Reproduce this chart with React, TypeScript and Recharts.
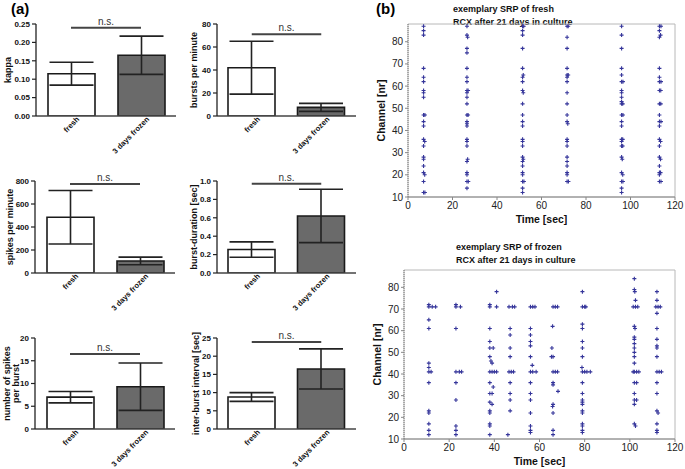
import {
  Bar,
  BarChart,
  Cell,
  ErrorBar,
  ReferenceArea,
  ReferenceLine,
  Scatter,
  ScatterChart,
  XAxis,
  YAxis,
} from "recharts";

const FONT = "'Liberation Sans', Arial, sans-serif";

// bar panels (a)
const groups = ["fresh", "3 days frozen"];

const kappaMean = [0.115, 0.165];
const kappaErr = [0.031, 0.052];
const kappaTicks = [0, 0.05, 0.1, 0.15, 0.2, 0.25];

const burstsMean = [42, 7.5];
const burstsErr = [23, 3.5];
const burstsTicks = [0, 20, 40, 60, 80];

const spikesMean = [485, 105];
const spikesErr = [233, 33];
const spikesTicks = [0, 200, 400, 600, 800];

const durationMean = [0.255, 0.62];
const durationErr = [0.083, 0.29];
const durationTicks = [0, 0.2, 0.4, 0.6, 0.8, 1.0];

const perBurstMean = [7.0, 9.3];
const perBurstErr = [1.25, 5.2];
const perBurstTicks = [0, 5, 10, 15, 20];

const ibiMean = [8.8, 16.5];
const ibiErr = [1.2, 5.5];
const ibiTicks = [0, 5, 10, 15, 20, 25];

// spike raster plots (b): [time sec, channel]
const timeTicks = [0, 20, 40, 60, 80, 100, 120];
const channelTicks = [10, 20, 30, 40, 50, 60, 70, 80];

const freshSpikes: [number, number][] = [
  [7, 87], [7, 85], [7, 83], [7, 68], [7, 64], [7, 62], [7, 58], [7, 57], [7, 55], [7, 47], [7.6, 47],
  [7, 44], [7, 42], [7, 36], [7.5, 35], [7, 33], [7, 28], [7, 27], [7, 24], [7, 21], [7.5, 20], [7, 17],
  [7, 12], [7.6, 12],
  [26.5, 87], [26.5, 83], [26.8, 82], [26.5, 77], [26.5, 75], [26.5, 68], [26.5, 64], [26.5, 62],
  [26.5, 58], [27, 58], [26.5, 57], [26.5, 55], [26.5, 52], [26.5, 47], [27, 47], [26.5, 44], [26.5, 43],
  [26.5, 42], [26.5, 36], [26.5, 35], [26.5, 33], [26.8, 27], [26.5, 26], [26.5, 21], [26.5, 20],
  [26.5, 17], [27.1, 17], [26.5, 14],
  [51.5, 87], [52, 87], [51.5, 85], [51.5, 83], [51.5, 77], [51.5, 68], [51.8, 65], [51.5, 64], [51.5, 62],
  [51.5, 58], [51.8, 57], [51.5, 52], [51.5, 47], [51.5, 44], [51.5, 42], [51.5, 36], [51.5, 35],
  [51.5, 33], [51.5, 28], [51.8, 27], [51.5, 26], [51.5, 24], [51.5, 21], [51.5, 20], [51.5, 17],
  [52.1, 17], [51.5, 14], [51.5, 12],
  [71.5, 87], [72, 87], [71.5, 82], [71.5, 77], [71.5, 68], [71.5, 65], [72, 65], [71.5, 64], [71.5, 62],
  [71.5, 57], [71.5, 52], [71.5, 47], [71.5, 44], [71.8, 43], [71.5, 36], [71.5, 35], [71.5, 33],
  [71.5, 28], [71.5, 26], [71.5, 24], [71.5, 21], [71.5, 20], [71.5, 17], [72.1, 17],
  [96, 87], [96, 83], [96, 77], [96, 68], [96, 65], [96, 62], [96.6, 62], [96, 58], [96, 57], [96, 55],
  [96, 53], [96, 52], [96.5, 52], [96, 47], [96.6, 47], [96, 44], [96, 42], [96, 36], [96.5, 36], [96, 35],
  [96, 33], [96.5, 33], [96, 28], [96.3, 27], [96, 21], [96.5, 20], [96, 17], [96.6, 17], [96, 14], [96, 12],
  [113, 87], [113.7, 87], [113, 85], [113.5, 83], [113, 82], [113, 68], [113, 64], [113, 62], [113.7, 62],
  [113, 58], [113.6, 58], [113, 52], [113.6, 52], [113, 47], [113, 44], [113.7, 44], [113, 42], [113, 36],
  [113.5, 35], [113, 33], [113, 28], [113.5, 27], [113, 24], [113, 21], [113.5, 21], [113, 20], [113, 17],
  [113.7, 17],
];

const frozenSpikes: [number, number][] = [
  [11, 72], [11, 71], [12.5, 71], [14, 71], [11, 65], [11, 61], [11, 45], [11, 43], [11, 41], [12, 41],
  [11, 36], [11, 23], [11, 22], [11, 17], [11, 14], [11, 12],
  [23, 72], [23, 71], [25, 71], [23, 61], [23, 41], [24.5, 41], [25.5, 41], [23, 36], [23, 28], [23, 16],
  [23, 14], [23, 12],
  [38, 72], [38, 71], [41, 71], [41, 78], [38, 61], [38, 55], [38, 52], [39.5, 52], [38, 48], [38.5, 46],
  [39, 45], [38, 41], [39, 41], [40, 41], [41, 41], [38, 36], [39.5, 34], [38, 31], [39, 31], [38, 27],
  [39, 26], [38, 23], [38, 22], [38, 17], [38, 16], [38, 12],
  [46.5, 71], [48, 71], [49, 71], [47, 61], [47, 58], [47, 52], [47, 48], [46.5, 41], [47.5, 41],
  [48.5, 41], [47, 36], [47, 31], [47, 28], [47, 23], [46, 12],
  [56, 71], [57, 71], [58, 71], [56, 61], [56, 58], [56, 55], [56, 53], [56, 48], [56.8, 44], [56, 41],
  [57, 41], [58.5, 41], [56, 36], [56, 31], [56, 28], [56, 22], [56, 16], [56, 14], [56, 13],
  [66, 71], [67, 71], [68, 71], [65.8, 62], [65.5, 52], [66, 48], [65.3, 48], [66, 41], [67, 41], [68, 41],
  [66, 36], [66, 35], [68.2, 32], [66, 26], [65.8, 25], [66, 22], [66, 14], [66, 12],
  [79, 78], [79, 71], [80, 71], [80.5, 71], [79, 63], [79, 61], [79, 55], [79, 52], [79, 48], [78.8, 43],
  [79, 41], [80, 41], [81, 41], [82.5, 41], [79, 36], [79, 31], [79, 28], [79, 27], [79, 26], [79, 23],
  [79, 22], [79, 17], [79, 16], [79, 14], [79, 13],
  [102, 84], [102, 79], [102.2, 78], [102.5, 74], [101.5, 71], [102.5, 71], [103.5, 71], [102, 62],
  [102.3, 61], [102, 57], [102, 56], [102, 54], [102, 52], [102, 50], [102, 48], [102, 45], [101.5, 41],
  [102, 41], [103, 41], [104, 41], [102, 36], [103, 36], [102, 31], [102, 28], [103, 28], [102, 26],
  [102, 17], [102.5, 16],
  [112, 78], [112, 74], [111.5, 71], [112.5, 71], [113.5, 71], [112, 68], [112, 61], [112, 56], [112, 53],
  [112, 52], [112, 48], [112, 41], [113, 41], [114, 41], [112, 36], [112, 31], [112, 23], [112.5, 22],
  [112, 17], [112, 14], [112, 13],
];

type PanelProps = {
  left: number;
  top: number;
  width: number;
  plotH: number;
  axisW: number;
  means: number[];
  errs: number[];
  ticks: number[];
  digits: number;
  nsAt: number;
  title: string[];
  titleX: number;
};

function BarPanel(p: PanelProps) {
  const data = groups.map((g, i) => ({ name: g, mean: p.means[i], err: p.errs[i] }));
  const max = p.ticks[p.ticks.length - 1];
  const midY = 10 + p.plotH / 2;
  const lineGap = 9;
  const n = p.title.length;
  return (
    <div style={{ position: "absolute", left: p.left, top: p.top }}>
      <BarChart
        width={p.width}
        height={p.plotH + 55}
        data={data}
        margin={{ top: 10, right: 10, bottom: 0, left: 0 }}
        barSize={47}
      >
        <XAxis
          dataKey="name"
          type="category"
          height={45}
          interval={0}
          tickSize={0}
          tickMargin={0}
          tickLine={false}
          angle={-45}
          axisLine={{ stroke: "#444", strokeWidth: 1.3 }}
          tick={{ fontSize: 7.6, fontWeight: 700, fill: "#111", fontFamily: FONT, textAnchor: "end", dx: 5 }}
        />
        <YAxis
          type="number"
          domain={[0, max]}
          ticks={p.ticks}
          interval={0}
          allowDataOverflow
          width={p.axisW}
          tickSize={4}
          tickFormatter={(v: number) => v.toFixed(p.digits)}
          axisLine={{ stroke: "#222", strokeWidth: 1.3 }}
          tickLine={{ stroke: "#222", strokeWidth: 1.2 }}
          tick={{ fontSize: 8, fontWeight: 700, fill: "#111", fontFamily: FONT }}
        />
        <Bar dataKey="mean" stroke="#1a1a1a" strokeWidth={1.6} isAnimationActive={false}>
          <Cell fill="#ffffff" />
          <Cell fill="#6a6a6a" />
          <ErrorBar dataKey="err" width={22} stroke="#222" strokeWidth={1.6} direction="y" />
        </Bar>
        <ReferenceLine
          segment={[
            { x: groups[0], y: p.nsAt },
            { x: groups[1], y: p.nsAt },
          ]}
          stroke="#444"
          strokeWidth={2}
          label={{ value: "n.s.", position: "top", fontSize: 10, fill: "#333", fontFamily: FONT, offset: 3 }}
        />
        {p.title.map((line, i) => {
          const tx = p.titleX - (n - 1 - i) * lineGap;
          return (
            <text
              key={line}
              transform={`translate(${tx} ${midY}) rotate(-90)`}
              textAnchor="middle"
              fontSize={9}
              fontWeight={700}
              fill="#111"
              fontFamily={FONT}
            >
              {line}
            </text>
          );
        })}
      </BarChart>
    </div>
  );
}

const plus = (props: any) => {
  const { cx, cy } = props;
  if (cx == null || cy == null) return <g />;
  return (
    <path
      d={`M${cx - 2},${cy}h4M${cx},${cy - 2}v4`}
      stroke="#35359a"
      strokeWidth={1.1}
      fill="none"
    />
  );
};

type RasterProps = {
  left: number;
  top: number;
  marginTop: number;
  plotH: number;
  axisW: number;
  spikes: [number, number][];
};

function Raster(p: RasterProps) {
  const data = p.spikes.map(([t, ch]) => ({ t, ch }));
  const width = 325;
  const height = p.marginTop + p.plotH + 30;
  const plotMidX = p.axisW + (width - 10 - p.axisW) / 2;
  return (
    <div style={{ position: "absolute", left: p.left, top: p.top }}>
      <ScatterChart
        width={width}
        height={height}
        margin={{ top: p.marginTop, right: 10, bottom: 0, left: 0 }}
      >
        <ReferenceArea x1={0} x2={120} y1={10} y2={88} fill="none" stroke="#b8b8b8" strokeWidth={1} />
        <XAxis
          type="number"
          dataKey="t"
          domain={[0, 120]}
          ticks={timeTicks}
          interval={0}
          height={30}
          tickSize={3}
          axisLine={{ stroke: "#888" }}
          tickLine={{ stroke: "#888" }}
          tick={{ fontSize: 10, fill: "#222", fontFamily: FONT }}
        />
        <YAxis
          type="number"
          dataKey="ch"
          domain={[10, 88]}
          ticks={channelTicks}
          interval={0}
          width={p.axisW}
          tickSize={3}
          axisLine={{ stroke: "#777", strokeDasharray: "1 1" }}
          tickLine={{ stroke: "#888" }}
          tick={{ fontSize: 10, fill: "#222", fontFamily: FONT }}
        />
        <Scatter data={data} shape={plus} isAnimationActive={false} />
        <text
          transform={`translate(${p.axisW - 23} ${p.marginTop + p.plotH / 2}) rotate(-90)`}
          textAnchor="middle"
          fontSize={10.5}
          fontWeight={700}
          fill="#111"
          fontFamily={FONT}
        >
          Channel [nr]
        </text>
        <text
          x={plotMidX}
          y={p.marginTop + p.plotH + 26}
          textAnchor="middle"
          fontSize={10.5}
          fontWeight={700}
          fill="#111"
          fontFamily={FONT}
        >
          Time [sec]
        </text>
      </ScatterChart>
    </div>
  );
}

const titleStyle: React.CSSProperties = {
  position: "absolute",
  fontSize: 9,
  fontWeight: 700,
  lineHeight: "13px",
  color: "#111",
  whiteSpace: "nowrap",
};

export default function App() {
  return (
    <div
      style={{
        position: "absolute",
        left: 0,
        top: 0,
        width: 685,
        height: 469,
        background: "#fff",
        fontFamily: FONT,
        overflow: "hidden",
      }}
    >
      <div style={{ position: "absolute", left: 11, top: 0, fontSize: 15, fontWeight: 700 }}>(a)</div>
      <div style={{ position: "absolute", left: 376, top: 0, fontSize: 15, fontWeight: 700 }}>(b)</div>

      <BarPanel left={0} top={14} width={186} plotH={92} axisW={36} means={kappaMean} errs={kappaErr}
        ticks={kappaTicks} digits={2} nsAt={0.24} title={["kappa"]} titleX={11} />
      <BarPanel left={185} top={14} width={181} plotH={92} axisW={32} means={burstsMean} errs={burstsErr}
        ticks={burstsTicks} digits={0} nsAt={71} title={["bursts per minute"]} titleX={12} />
      <BarPanel left={0} top={171} width={185} plotH={92} axisW={35} means={spikesMean} errs={spikesErr}
        ticks={spikesTicks} digits={0} nsAt={774} title={["spikes per minute"]} titleX={13} />
      <BarPanel left={185} top={171} width={181} plotH={92} axisW={32} means={durationMean} errs={durationErr}
        ticks={durationTicks} digits={1} nsAt={0.97} title={["burst-duration [sec]"]} titleX={12} />
      <BarPanel left={0} top={328} width={185} plotH={91} axisW={35} means={perBurstMean} errs={perBurstErr}
        ticks={perBurstTicks} digits={0} nsAt={16.5} title={["number of spikes", "per burst"]} titleX={19} />
      <BarPanel left={185} top={328} width={181} plotH={91} axisW={32} means={ibiMean} errs={ibiErr}
        ticks={ibiTicks} digits={0} nsAt={23.9} title={["inter-burst interval [sec]"]} titleX={14} />

      <div style={{ ...titleStyle, left: 453, top: 3 }}>
        exemplary SRP of fresh
        <br />
        RCX after 21 days in culture
      </div>
      <div style={{ ...titleStyle, left: 456, top: 241 }}>
        exemplary SRP of frozen
        <br />
        RCX after 21 days in culture
      </div>

      <Raster left={360} top={0} marginTop={24} plotH={173} axisW={48} spikes={freshSpikes} />
      <Raster left={360} top={240} marginTop={30} plotH={169} axisW={44} spikes={frozenSpikes} />
    </div>
  );
}
